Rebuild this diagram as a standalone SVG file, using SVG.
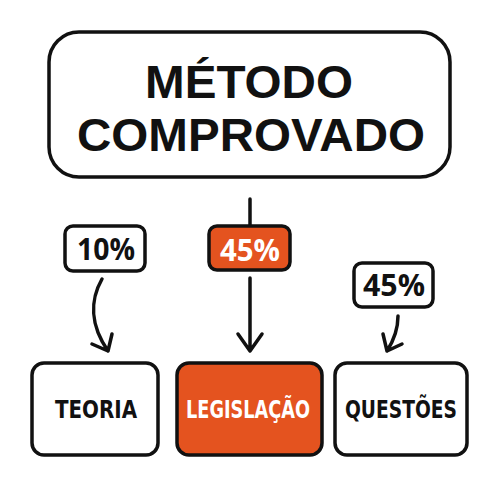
<svg xmlns="http://www.w3.org/2000/svg" width="500" height="500" viewBox="0 0 500 500">
<defs>
<style>
.box{fill:#fff;stroke:#111;stroke-width:3.5}
.hot{fill:#E4531F;stroke:#111;stroke-width:3.5}
.ln{fill:none;stroke:#111;stroke-width:3.5;stroke-linecap:round;stroke-linejoin:round}
.t{font-family:"Open Sans","Noto Sans",sans-serif;font-weight:700;text-anchor:middle;fill:#111}
.h{font-family:"Liberation Sans","Noto Sans",sans-serif}
.c{font-family:"DejaVu Sans Condensed","Liberation Sans",sans-serif}
.w{fill:#fff}
</style>
</defs>
<rect width="500" height="500" fill="#fff"/>
<g id="metodo">
<rect class="box" x="49" y="32" width="401" height="145" rx="30"/>
<text class="t h" x="249" y="98" font-size="47" textLength="208" lengthAdjust="spacingAndGlyphs">MÉTODO</text>
<text class="t h" x="251" y="151" font-size="47" textLength="348" lengthAdjust="spacingAndGlyphs">COMPROVADO</text>
</g>
<g id="connectors">
<path class="ln" d="M250 199 V225"/>
<path class="ln" d="M250 278 V351 M238 334 L250 351 L262 334"/>
<path class="ln" d="M102 279 C90 300 90 325 108 351 M92 344 L108 351 L112 334"/>
<path class="ln" d="M398 316 C398 330 394 340 387 351 M383 334 L387 351 L402 344"/>
</g>
<g id="p10">
<rect class="box" x="65" y="226" width="80" height="45" rx="8"/>
<text class="t" x="106" y="260" font-size="31" textLength="58" lengthAdjust="spacingAndGlyphs">10%</text>
</g>
<g id="p45a">
<rect class="hot" x="209" y="226" width="81" height="44" rx="8"/>
<text class="t w" x="250" y="261" font-size="31" textLength="60" lengthAdjust="spacingAndGlyphs">45%</text>
</g>
<g id="p45b">
<rect class="box" x="354" y="263" width="79" height="44" rx="8"/>
<text class="t" x="394" y="296" font-size="31" textLength="62" lengthAdjust="spacingAndGlyphs">45%</text>
</g>
<g id="teoria">
<rect class="box" x="32" y="363" width="126" height="92" rx="12"/>
<text class="t c" x="96" y="418" font-size="25" textLength="82" lengthAdjust="spacingAndGlyphs">TEORIA</text>
</g>
<g id="legislacao">
<rect class="hot" x="177" y="363" width="145" height="92" rx="12"/>
<text class="t c w" x="248" y="418" font-size="25" textLength="124" lengthAdjust="spacingAndGlyphs">LEGISLAÇÃO</text>
</g>
<g id="questoes">
<rect class="box" x="335" y="363" width="132" height="92" rx="12"/>
<text class="t c" x="401" y="418" font-size="25" textLength="112" lengthAdjust="spacingAndGlyphs">QUESTÕES</text>
</g>
</svg>
